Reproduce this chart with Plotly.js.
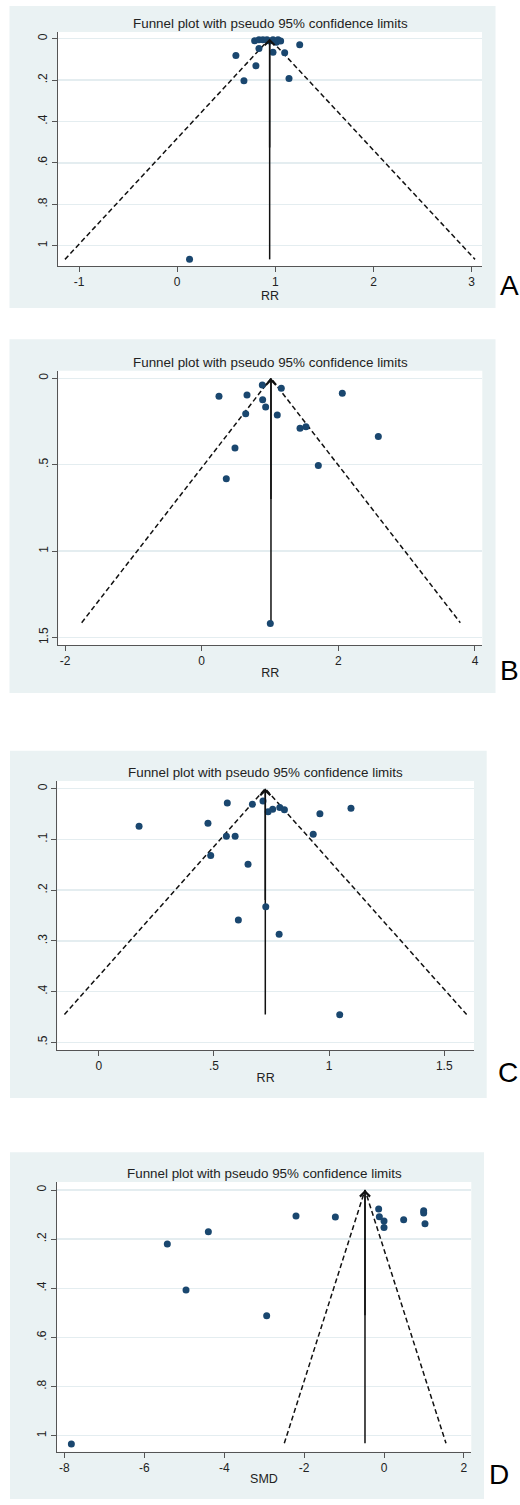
<!DOCTYPE html>
<html>
<head>
<meta charset="utf-8">
<script src="https://cdn.plot.ly/plotly-3.0.1.min.js"></script>
<style>html,body{margin:0;padding:0;background:#fff;}#chart{width:520px;height:1505px;}</style>
</head>
<body>
<div id="chart"></div>
<script>
// ---------- Data ----------
const chartTitle = 'Funnel plot with pseudo 95% confidence limits';

// Panel A (RR)
const aRR = [0.789, 0.833, 0.873, 0.914, 0.942, 0.976, 1.010, 1.027, 1.054, 0.833, 0.598, 0.976, 1.095, 1.248, 0.802, 0.680, 1.139, 0.126];
const aSE = [0.010, 0.006, 0.005, 0.005, 0.012, 0.005, 0.017, 0.005, 0.011, 0.048, 0.082, 0.066, 0.068, 0.029, 0.131, 0.203, 0.193, 1.066];
const aPooled = 0.942, aSEmax = 1.066, aLimits = [-1.143, 3.034];
const aXTicks = [-1, 0, 1, 2, 3], aXTickText = ['-1', '0', '1', '2', '3'];
const aYTicks = [0, 0.2, 0.4, 0.6, 0.8, 1], aYTickText = ['0', '.2', '.4', '.6', '.8', '1'];

// Panel B (RR)
const bRR = [0.253, 0.663, 0.887, 1.165, 0.892, 0.936, 0.644, 1.106, 2.058, 1.439, 1.526, 2.585, 0.487, 0.360, 1.707, 1.004];
const bSE = [0.104, 0.097, 0.039, 0.058, 0.124, 0.166, 0.205, 0.212, 0.087, 0.289, 0.280, 0.336, 0.403, 0.581, 0.504, 1.418];
const bPooled = 1.014, bSEmax = 1.414, bLimits = [-1.757, 3.785];
const bXTicks = [-2, 0, 2, 4], bXTickText = ['-2', '0', '2', '4'];
const bYTicks = [0, 0.5, 1, 1.5], bYTickText = ['0', '.5', '1', '1.5'];

// Panel C (RR)
const cRR = [0.175, 0.474, 0.558, 0.667, 0.713, 0.735, 0.755, 0.786, 0.806, 0.960, 1.095, 0.554, 0.592, 0.931, 0.486, 0.648, 0.725, 0.606, 0.783, 1.046];
const cSE = [0.0742, 0.0683, 0.0282, 0.0308, 0.0243, 0.0453, 0.0407, 0.0368, 0.0414, 0.0493, 0.0387, 0.0939, 0.0939, 0.0899, 0.1314, 0.149, 0.2326, 0.2588, 0.2871, 0.4455];
const cPooled = 0.723, cSEmax = 0.445, cLimits = [-0.149, 1.597];
const cXTicks = [0, 0.5, 1, 1.5], cXTickText = ['0', '.5', '1', '1.5'];
const cYTicks = [0, 0.1, 0.2, 0.3, 0.4, 0.5], cYTickText = ['0', '.1', '.2', '.3', '.4', '.5'];

// Panel D (SMD)
const dSMD = [-7.826, -5.424, -4.397, -4.956, -2.937, -2.203, -1.218, -0.134, -0.117, 0.000, 0.000, 0.492, 0.993, 0.993, 1.026];
const dSE = [1.034, 0.2198, 0.1696, 0.407, 0.5115, 0.1058, 0.1099, 0.0773, 0.1085, 0.126, 0.153, 0.1207, 0.0841, 0.0936, 0.137];
const dPooled = -0.476, dSEmax = 1.031, dLimits = [-2.496, 1.552];
const dXTicks = [-8, -6, -4, -2, 0, 2], dXTickText = ['-8', '-6', '-4', '-2', '0', '2'];
const dYTicks = [0, 0.2, 0.4, 0.6, 0.8, 1], dYTickText = ['0', '.2', '.4', '.6', '.8', '1'];

const panelLetters = ['A', 'B', 'C', 'D'];
const xTitles = ['RR', 'RR', 'RR', 'SMD'];

// ---------- Layout geometry (pixels in the 520x1505 page) ----------
const W = 520, H = 1505;
const panels = [
  {pts: [aRR, aSE], pooled: aPooled, seMax: aSEmax, lim: aLimits, xt: [aXTicks, aXTickText], yt: [aYTicks, aYTickText],
   plot: [58, 482, 32, 266], xr: [-1.214, 3.105], yr: [1.098, -0.032], box: [9.5, 495.5, 6, 308], letter: [509, 303]},
  {pts: [bRR, bSE], pooled: bPooled, seMax: bSEmax, lim: bLimits, xt: [bXTicks, bXTickText], yt: [bYTicks, bYTickText],
   plot: [58.3, 482.3, 370.7, 645], xr: [-2.099, 4.107], yr: [1.543, -0.044], box: [9.5, 495.5, 339.3, 693], letter: [509, 688]},
  {pts: [cRR, cSE], pooled: cPooled, seMax: cSEmax, lim: cLimits, xt: [cXTicks, cXTickText], yt: [cYTicks, cYTickText],
   plot: [57.3, 474, 781, 1050], xr: [-0.180, 1.629], yr: [0.515, -0.0152], box: [10, 486.7, 750.7, 1098], letter: [508, 1090]},
  {pts: [dSMD, dSE], pooled: dPooled, seMax: dSEmax, lim: dLimits, xt: [dXTicks, dXTickText], yt: [dYTicks, dYTickText],
   plot: [56.7, 471.3, 1182, 1451.7], xr: [-8.193, 2.185], yr: [1.065, -0.0326], box: [10, 484, 1152.3, 1499], letter: [499, 1492]}
];

const FONT = 'Liberation Sans, Arial, Helvetica, sans-serif';
const bg = '#eaf2f3';
const gridColor = '#e4edf0';
const navy = '#1a476f';

const traces = [];
const layout = {
  width: W, height: H,
  margin: {l: 0, r: 0, t: 0, b: 0},
  paper_bgcolor: '#ffffff',
  plot_bgcolor: '#ffffff',
  showlegend: false,
  font: {family: FONT, color: '#222', size: 12},
  shapes: [], annotations: []
};

panels.forEach((p, i) => {
  const n = i === 0 ? '' : String(i + 1);
  const xa = 'x' + n, ya = 'y' + n;
  const xKey = 'xaxis' + n, yKey = 'yaxis' + n;

  // Background boxes
  layout.shapes.push({type: 'rect', xref: 'paper', yref: 'paper', layer: 'below',
    x0: p.box[0] / W, x1: p.box[1] / W, y0: 1 - p.box[3] / H, y1: 1 - p.box[2] / H,
    fillcolor: bg, line: {width: 0}});
  layout.shapes.push({type: 'rect', xref: xa + ' domain', yref: ya + ' domain', layer: 'below',
    x0: 0, x1: 1, y0: 0, y1: 1, fillcolor: '#ffffff', line: {width: 0}});

  layout[xKey] = {
    domain: [p.plot[0] / W, p.plot[1] / W], anchor: ya, range: p.xr,
    tickmode: 'array', tickvals: p.xt[0], ticktext: p.xt[1],
    showgrid: false, zeroline: false, showline: true, linecolor: '#555', linewidth: 1,
    ticks: 'outside', ticklen: 5, tickcolor: '#555', tickwidth: 1,
    tickfont: {family: FONT, size: 12, color: '#222'},
    title: {text: xTitles[i], font: {family: FONT, size: 12.5, color: '#222'}, standoff: 0}
  };
  layout[yKey] = {
    domain: [1 - p.plot[3] / H, 1 - p.plot[2] / H], anchor: xa, range: p.yr,
    tickmode: 'array', tickvals: p.yt[0], ticktext: p.yt[1], tickangle: -90,
    showgrid: true, gridcolor: gridColor, gridwidth: 1.5,
    zeroline: false, showline: true, linecolor: '#555', linewidth: 1,
    ticks: 'outside', ticklen: 5, tickcolor: '#555', tickwidth: 1,
    tickfont: {family: FONT, size: 12, color: '#222'}
  };

  // Pseudo 95% confidence limits (dashed)
  traces.push({type: 'scatter', mode: 'lines', xaxis: xa, yaxis: ya,
    x: [p.lim[0], p.pooled, p.lim[1]], y: [p.seMax, 0, p.seMax],
    line: {color: '#111', width: 1.5, dash: '5px,3px'}, hoverinfo: 'skip'});
  // Pooled estimate line
  traces.push({type: 'scatter', mode: 'lines', xaxis: xa, yaxis: ya,
    x: [p.pooled, p.pooled], y: [p.seMax, 0],
    line: {color: '#111', width: 1.5}, hoverinfo: 'skip'});
  // Studies
  traces.push({type: 'scatter', mode: 'markers', xaxis: xa, yaxis: ya,
    x: p.pts[0], y: p.pts[1],
    marker: {color: navy, size: 7, line: {width: 0}}});

  // Arrow head at the top of the pooled line
  layout.annotations.push({xref: xa, yref: ya, axref: xa, ayref: ya,
    x: p.pooled, y: 0, ax: p.pooled, ay: p.seMax * 0.5, text: '', showarrow: true,
    arrowhead: 4, arrowsize: 1.3, arrowwidth: 1.5, arrowcolor: '#111', standoff: 0});

  // Title
  layout.annotations.push({xref: xa + ' domain', yref: ya + ' domain', x: 0.5, y: 1,
    xanchor: 'center', yanchor: 'bottom', yshift: -1, showarrow: false,
    text: chartTitle, font: {family: FONT, size: 13.4, color: '#222'}});

  // Panel letter
  layout.annotations.push({xref: 'paper', yref: 'paper', x: p.letter[0] / W, y: 1 - p.letter[1] / H,
    xanchor: 'center', yanchor: 'bottom', showarrow: false,
    text: panelLetters[i], font: {family: FONT, size: 28, color: '#000'}});
});

Plotly.newPlot('chart', traces, layout, {staticPlot: true, displayModeBar: false});
</script>
</body>
</html>
